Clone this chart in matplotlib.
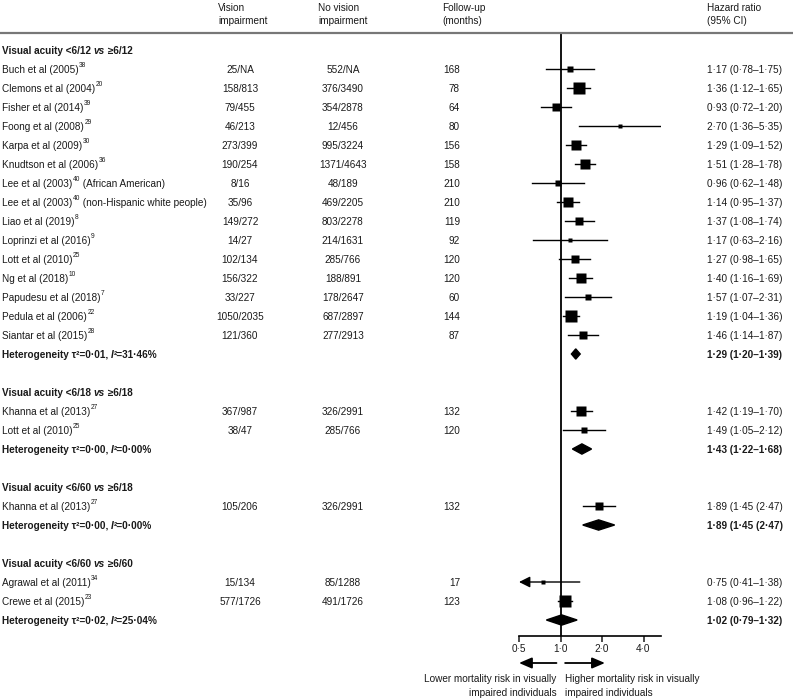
import matplotlib
matplotlib.use('Agg')
import matplotlib.pyplot as plt
from matplotlib import font_manager, transforms
from matplotlib.lines import Line2D
from matplotlib.patches import Polygon

# ---- data ----
groups = ["Visual acuity <6/12 _vs_ ≥6/12", "Visual acuity <6/18 _vs_ ≥6/18",
          "Visual acuity <6/60 _vs_ ≥6/18", "Visual acuity <6/60 _vs_ ≥6/60"]
group_sizes = [15, 2, 1, 2]

studies = ["Buch et al (2005)^38^", "Clemons et al (2004)^20^", "Fisher et al (2014)^39^",
           "Foong et al (2008)^29^", "Karpa et al (2009)^30^", "Knudtson et al (2006)^36^",
           "Lee et al (2003)^40^ (African American)", "Lee et al (2003)^40^ (non-Hispanic white people)",
           "Liao et al (2019)^8^", "Loprinzi et al (2016)^9^", "Lott et al (2010)^25^",
           "Ng et al (2018)^10^", "Papudesu et al (2018)^7^", "Pedula et al (2006)^22^",
           "Siantar et al (2015)^28^",
           "Khanna et al (2013)^27^", "Lott et al (2010)^25^",
           "Khanna et al (2013)^27^",
           "Agrawal et al (2011)^34^", "Crewe et al (2015)^23^"]
vision = ["25/NA", "158/813", "79/455", "46/213", "273/399", "190/254", "8/16", "35/96",
          "149/272", "14/27", "102/134", "156/322", "33/227", "1050/2035", "121/360",
          "367/987", "38/47", "105/206", "15/134", "577/1726"]
no_vision = ["552/NA", "376/3490", "354/2878", "12/456", "995/3224", "1371/4643", "48/189",
             "469/2205", "803/2278", "214/1631", "285/766", "188/891", "178/2647", "687/2897",
             "277/2913", "326/2991", "285/766", "326/2991", "85/1288", "491/1726"]
follow_up = [168, 78, 64, 80, 156, 158, 210, 210, 119, 92, 120, 120, 60, 144, 87,
             132, 120, 132, 17, 123]
hr = [1.17, 1.36, 0.93, 2.70, 1.29, 1.51, 0.96, 1.14, 1.37, 1.17, 1.27, 1.40, 1.57, 1.19, 1.46,
      1.42, 1.49, 1.89, 0.75, 1.08]
lo = [0.78, 1.12, 0.72, 1.36, 1.09, 1.28, 0.62, 0.95, 1.08, 0.63, 0.98, 1.16, 1.07, 1.04, 1.14,
      1.19, 1.05, 1.45, 0.41, 0.96]
hi = [1.75, 1.65, 1.20, 5.35, 1.52, 1.78, 1.48, 1.37, 1.74, 2.16, 1.65, 1.69, 2.31, 1.36, 1.87,
      1.70, 2.12, 2.47, 1.38, 1.22]
hr_text = ["1·17 (0·78–1·75)", "1·36 (1·12–1·65)", "0·93 (0·72–1·20)", "2·70 (1·36–5·35)",
           "1·29 (1·09–1·52)", "1·51 (1·28–1·78)", "0·96 (0·62–1·48)", "1·14 (0·95–1·37)",
           "1·37 (1·08–1·74)", "1·17 (0·63–2·16)", "1·27 (0·98–1·65)", "1·40 (1·16–1·69)",
           "1·57 (1·07–2·31)", "1·19 (1·04–1·36)", "1·46 (1·14–1·87)",
           "1·42 (1·19–1·70)", "1·49 (1·05–2·12)", "1·89 (1·45 (2·47)",
           "0·75 (0·41–1·38)", "1·08 (0·96–1·22)"]
weight_px = [7, 12, 9, 4.5, 10, 11, 5.5, 11, 9, 5, 9, 10, 7, 12, 9, 11, 7, 9, 5, 12]  # box widths

heterogeneity = ["Heterogeneity τ²=0·01, _I_²=31·46%", "Heterogeneity τ²=0·00, _I_²=0·00%",
                 "Heterogeneity τ²=0·00, _I_²=0·00%", "Heterogeneity τ²=0·02, _I_²=25·04%"]
pooled_hr = [1.29, 1.43, 1.89, 1.02]
pooled_lo = [1.20, 1.22, 1.45, 0.79]
pooled_hi = [1.39, 1.68, 2.47, 1.32]
pooled_text = ["1·29 (1·20–1·39)", "1·43 (1·22–1·68)", "1·89 (1·45 (2·47)", "1·02 (0·79–1·32)"]

xticks = [0.5, 1, 2, 4]
xtick_labels = ["0·5", "1·0", "2·0", "4·0"]

# ---- fonts ----
names = {f.name for f in font_manager.fontManager.ttflist}
if 'Liberation Sans Narrow' in names:
    FONT, FS = 'Liberation Sans Narrow', 8.8
else:
    FONT, FS = 'Liberation Sans', 7.2
plt.rcParams['font.family'] = [FONT, 'DejaVu Sans']
INK = '#1a1a1a'

W, H = 793, 698
fig = plt.figure(figsize=(W / 100, H / 100), dpi=100)
renderer = fig.canvas.get_renderer()


def fx(px):
    return px / W


def fy(px):
    return 1 - px / H


ROW0, ROWH = 50, 19
ax = fig.add_axes([fx(519), fy(636), fx(661) - fx(519), fy(33) - fy(636)])
ax.set_xscale('log', base=2)
ax.set_xlim(0.5, 0.5 * 2 ** ((661 - 519) / 41.5))
ax.set_ylim((636 - ROW0) / ROWH, (33 - ROW0) / ROWH)
ax.set_xticks(xticks)
ax.set_xticklabels(xtick_labels)
ax.xaxis.set_minor_locator(matplotlib.ticker.NullLocator())
ax.set_yticks([])
for s in ['top', 'left', 'right']:
    ax.spines[s].set_visible(False)
ax.spines['bottom'].set_linewidth(1.2)
ax.tick_params(axis='x', direction='out', length=4, width=1.1, pad=2, labelsize=FS, colors=INK)
ax.patch.set_alpha(0)
ax.axvline(1, color='black', lw=1.3, zorder=1)

bt = transforms.blended_transform_factory(fig.transFigure, ax.transData)


def runs(x, y, markup, weight='normal'):
    # '^..^' superscript, '_.._' italic
    dx = 0
    sup = ital = False
    buf = ''
    pieces = []
    for ch in markup:
        if ch in '^_':
            if buf:
                pieces.append((buf, sup, ital))
            buf = ''
            if ch == '^':
                sup = not sup
            else:
                ital = not ital
        else:
            buf += ch
    if buf:
        pieces.append((buf, sup, ital))
    for txt, s, it in pieces:
        tr = transforms.offset_copy(bt, fig=fig, x=dx + (0.5 if s else 0), y=4.5 if s else 0, units='dots')
        t = fig.text(x, y, txt, transform=tr, ha='left', va='center_baseline',
                     fontsize=FS * 0.66 if s else FS, weight=weight,
                     style='italic' if it else 'normal', color=INK)
        dx += t.get_window_extent(renderer).width + (0.5 if s else 0)


# column headers
for px, lines in [(218, ["Vision", "impairment"]), (318, ["No vision", "impairment"]),
                  (442, ["Follow-up", "(months)"]), (707, ["Hazard ratio", "(95% CI)"])]:
    for ly, line in zip([7, 20.5], lines):
        fig.text(fx(px), fy(ly), line, ha='left', va='center_baseline', fontsize=FS, color=INK)
fig.add_artist(Line2D([0, 1], [fy(33), fy(33)], color='#777777', lw=1.6, transform=fig.transFigure))

# rows
r = 0
k = 0
for g, n in enumerate(group_sizes):
    runs(fx(2), r, groups[g], weight='bold')
    r += 1
    for _ in range(n):
        runs(fx(2), r, studies[k])
        fig.text(fx(240), r, vision[k], transform=bt, ha='center', va='center_baseline', fontsize=FS, color=INK)
        fig.text(fx(343), r, no_vision[k], transform=bt, ha='center', va='center_baseline', fontsize=FS, color=INK)
        fig.text(fx(460), r, str(follow_up[k]), transform=bt, ha='right', va='center_baseline', fontsize=FS, color=INK)
        fig.text(fx(707), r, hr_text[k], transform=bt, ha='left', va='center_baseline', fontsize=FS, color=INK)
        xmin = ax.get_xlim()[0]
        if lo[k] < xmin:
            ax.annotate('', xy=(xmin, r), xytext=(hi[k], r),
                        arrowprops=dict(arrowstyle='-|>,head_length=0.6,head_width=0.3', color='black',
                                        lw=1, mutation_scale=11, shrinkA=0, shrinkB=0))
        else:
            ax.plot([lo[k], hi[k]], [r, r], color='black', lw=1, zorder=2)
        ax.plot(hr[k], r, marker='s', ms=weight_px[k] / 1.389, color='black', mec='none', zorder=3)
        r += 1
        k += 1
    runs(fx(2), r, heterogeneity[g], weight='bold')
    fig.text(fx(707), r, pooled_text[g], transform=bt, ha='left', va='center_baseline',
             fontsize=FS, weight='bold', color=INK)
    h = 0.27
    ax.add_patch(Polygon([(pooled_lo[g], r), (pooled_hr[g], r - h), (pooled_hi[g], r),
                          (pooled_hr[g], r + h)], closed=True, color='black', zorder=3))
    r += 2

# direction arrows under the axis
ya = (663 - ROW0) / ROWH
arrow = dict(arrowstyle='-|>,head_length=0.7,head_width=0.3', color='black', lw=1.3,
             mutation_scale=11, shrinkA=0, shrinkB=0)
ax.annotate('', xy=(0.5, ya), xytext=(0.935, ya), arrowprops=arrow, annotation_clip=False)
ax.annotate('', xy=(2.1, ya), xytext=(1.08, ya), arrowprops=arrow, annotation_clip=False)
for ly, left, right in [(678, "Lower mortality risk in visually", "Higher mortality risk in visually"),
                        (692, "impaired individuals", "impaired individuals")]:
    yy = (ly - ROW0) / ROWH
    ax.text(0.935, yy, left, ha='right', va='center_baseline', fontsize=FS, color=INK, clip_on=False)
    ax.text(1.08, yy, right, ha='left', va='center_baseline', fontsize=FS, color=INK, clip_on=False)

fig.savefig('out.png', dpi=100)
